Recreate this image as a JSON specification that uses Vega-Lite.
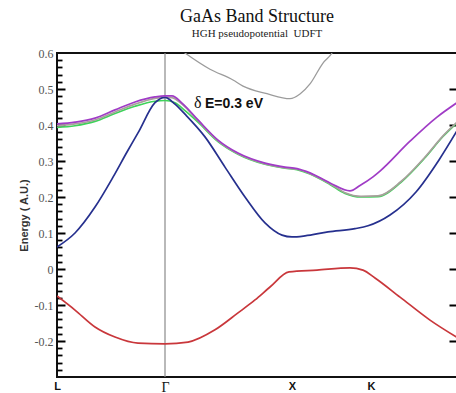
{
  "$schema": "https://vega.github.io/schema/vega-lite/v6.json",
  "width": 400,
  "height": 324,
  "autosize": "none",
  "padding": {"left": 57, "top": 53, "right": 0, "bottom": 16},
  "background": "white",
  "config": {"view": {"stroke": "#111", "strokeWidth": 2}},
  "title": {
    "text": "GaAs Band Structure",
    "subtitle": "HGH pseudopotential\u00a0\u00a0UDFT",
    "font": "Liberation Serif",
    "fontSize": 18,
    "fontWeight": "normal",
    "color": "#111",
    "subtitleFont": "Liberation Serif",
    "subtitleFontSize": 11,
    "subtitleColor": "#222",
    "subtitlePadding": 2,
    "anchor": "middle",
    "offset": 8
  },
  "datasets": {
    "bands": [
      {"b": "green", "x": 0.0, "y": 0.393}, {"b": "green", "x": 0.18, "y": 0.398}, {"b": "green", "x": 0.38, "y": 0.41}, {"b": "green", "x": 0.58, "y": 0.432}, {"b": "green", "x": 0.78, "y": 0.452}, {"b": "green", "x": 0.98, "y": 0.466}, {"b": "green", "x": 1.08, "y": 0.468}, {"b": "green", "x": 1.18, "y": 0.462}, {"b": "green", "x": 1.28, "y": 0.44}, {"b": "green", "x": 1.41, "y": 0.408}, {"b": "green", "x": 1.61, "y": 0.354}, {"b": "green", "x": 1.81, "y": 0.319}, {"b": "green", "x": 2.08, "y": 0.291}, {"b": "green", "x": 2.28, "y": 0.28}, {"b": "green", "x": 2.4, "y": 0.276}, {"b": "green", "x": 2.53, "y": 0.264}, {"b": "green", "x": 2.73, "y": 0.235}, {"b": "green", "x": 2.88, "y": 0.21}, {"b": "green", "x": 3.04, "y": 0.2}, {"b": "green", "x": 3.21, "y": 0.201}, {"b": "green", "x": 3.44, "y": 0.241}, {"b": "green", "x": 3.68, "y": 0.309}, {"b": "green", "x": 3.86, "y": 0.368}, {"b": "green", "x": 4.0, "y": 0.406},
      {"b": "gray", "x": 0.0, "y": 0.398}, {"b": "gray", "x": 0.18, "y": 0.403}, {"b": "gray", "x": 0.38, "y": 0.414}, {"b": "gray", "x": 0.58, "y": 0.436}, {"b": "gray", "x": 0.78, "y": 0.458}, {"b": "gray", "x": 0.98, "y": 0.474}, {"b": "gray", "x": 1.08, "y": 0.477}, {"b": "gray", "x": 1.15, "y": 0.476}, {"b": "gray", "x": 1.25, "y": 0.458}, {"b": "gray", "x": 1.41, "y": 0.412}, {"b": "gray", "x": 1.61, "y": 0.356}, {"b": "gray", "x": 1.81, "y": 0.32}, {"b": "gray", "x": 2.08, "y": 0.292}, {"b": "gray", "x": 2.28, "y": 0.281}, {"b": "gray", "x": 2.4, "y": 0.277}, {"b": "gray", "x": 2.53, "y": 0.265}, {"b": "gray", "x": 2.73, "y": 0.237}, {"b": "gray", "x": 2.88, "y": 0.212}, {"b": "gray", "x": 3.04, "y": 0.202}, {"b": "gray", "x": 3.21, "y": 0.203}, {"b": "gray", "x": 3.44, "y": 0.243}, {"b": "gray", "x": 3.68, "y": 0.311}, {"b": "gray", "x": 3.86, "y": 0.37}, {"b": "gray", "x": 4.0, "y": 0.408},
      {"b": "blue", "x": 0.0, "y": 0.061}, {"b": "blue", "x": 0.18, "y": 0.1}, {"b": "blue", "x": 0.38, "y": 0.172}, {"b": "blue", "x": 0.56, "y": 0.255}, {"b": "blue", "x": 0.7, "y": 0.325}, {"b": "blue", "x": 0.81, "y": 0.378}, {"b": "blue", "x": 0.98, "y": 0.462}, {"b": "blue", "x": 1.08, "y": 0.477}, {"b": "blue", "x": 1.18, "y": 0.458}, {"b": "blue", "x": 1.28, "y": 0.43}, {"b": "blue", "x": 1.48, "y": 0.367}, {"b": "blue", "x": 1.68, "y": 0.283}, {"b": "blue", "x": 1.88, "y": 0.2}, {"b": "blue", "x": 2.08, "y": 0.128}, {"b": "blue", "x": 2.25, "y": 0.094}, {"b": "blue", "x": 2.35, "y": 0.089}, {"b": "blue", "x": 2.48, "y": 0.092}, {"b": "blue", "x": 2.71, "y": 0.103}, {"b": "blue", "x": 2.98, "y": 0.112}, {"b": "blue", "x": 3.11, "y": 0.12}, {"b": "blue", "x": 3.33, "y": 0.15}, {"b": "blue", "x": 3.59, "y": 0.214}, {"b": "blue", "x": 3.82, "y": 0.303}, {"b": "blue", "x": 4.0, "y": 0.384},
      {"b": "purple", "x": 0.0, "y": 0.403}, {"b": "purple", "x": 0.18, "y": 0.408}, {"b": "purple", "x": 0.38, "y": 0.419}, {"b": "purple", "x": 0.58, "y": 0.442}, {"b": "purple", "x": 0.78, "y": 0.464}, {"b": "purple", "x": 0.98, "y": 0.478}, {"b": "purple", "x": 1.08, "y": 0.481}, {"b": "purple", "x": 1.15, "y": 0.481}, {"b": "purple", "x": 1.25, "y": 0.461}, {"b": "purple", "x": 1.41, "y": 0.414}, {"b": "purple", "x": 1.61, "y": 0.358}, {"b": "purple", "x": 1.81, "y": 0.322}, {"b": "purple", "x": 2.08, "y": 0.294}, {"b": "purple", "x": 2.28, "y": 0.283}, {"b": "purple", "x": 2.4, "y": 0.279}, {"b": "purple", "x": 2.53, "y": 0.267}, {"b": "purple", "x": 2.73, "y": 0.239}, {"b": "purple", "x": 2.93, "y": 0.217}, {"b": "purple", "x": 3.03, "y": 0.232}, {"b": "purple", "x": 3.16, "y": 0.256}, {"b": "purple", "x": 3.23, "y": 0.272}, {"b": "purple", "x": 3.53, "y": 0.355}, {"b": "purple", "x": 3.8, "y": 0.422}, {"b": "purple", "x": 4.0, "y": 0.462},
      {"b": "red", "x": 0.0, "y": -0.075}, {"b": "red", "x": 0.18, "y": -0.114}, {"b": "red", "x": 0.38, "y": -0.161}, {"b": "red", "x": 0.58, "y": -0.189}, {"b": "red", "x": 0.81, "y": -0.206}, {"b": "red", "x": 1.08, "y": -0.208}, {"b": "red", "x": 1.31, "y": -0.203}, {"b": "red", "x": 1.58, "y": -0.169}, {"b": "red", "x": 1.81, "y": -0.122}, {"b": "red", "x": 1.98, "y": -0.086}, {"b": "red", "x": 2.13, "y": -0.05}, {"b": "red", "x": 2.32, "y": -0.008}, {"b": "red", "x": 2.6, "y": -0.003}, {"b": "red", "x": 2.93, "y": 0.003}, {"b": "red", "x": 3.06, "y": -0.003}, {"b": "red", "x": 3.18, "y": -0.025}, {"b": "red", "x": 3.43, "y": -0.078}, {"b": "red", "x": 3.73, "y": -0.142}, {"b": "red", "x": 4.0, "y": -0.19}
    ],
    "upper": [
      {"x": 1.25, "y": 0.606}, {"x": 1.28, "y": 0.6}, {"x": 1.53, "y": 0.555}, {"x": 1.76, "y": 0.525}, {"x": 1.86, "y": 0.508}, {"x": 2.1, "y": 0.487}, {"x": 2.33, "y": 0.473}, {"x": 2.43, "y": 0.486}, {"x": 2.53, "y": 0.514}, {"x": 2.66, "y": 0.572}, {"x": 2.75, "y": 0.6}, {"x": 2.77, "y": 0.61}
    ],
    "gamma": [{"x": 1.08}],
    "delta": [{"x": 1.37, "y": 0.447, "t": "δ"}],
    "label": [{"x": 1.48, "y": 0.447, "t": "E=0.3 eV"}]
  },
  "encoding": {
    "x": {
      "field": "x", "type": "quantitative",
      "scale": {"domain": [0, 4.0], "nice": false, "zero": false},
      "axis": {
        "orient": "bottom", "title": null, "values": [0, 1.08, 2.35, 3.14],
        "labelExpr": "datum.value == 0 ? 'L' : datum.value == 1.08 ? 'Γ' : datum.value == 2.35 ? 'X' : 'K'",
        "ticks": false, "domain": false, "grid": false,
        "labelFont": {"condition": {"test": "datum.value == 1.08", "value": "Liberation Serif"}, "value": "Liberation Sans"},
        "labelFontWeight": {"condition": {"test": "datum.value == 1.08", "value": "normal"}, "value": "bold"},
        "labelFontSize": {"condition": {"test": "datum.value == 1.08", "value": 14}, "value": 11},
        "labelColor": "#111", "labelPadding": 3, "labelBaseline": "top", "labelFlush": false, "labelOverlap": false
      }
    }
  },
  "resolve": {"axis": {"y": "independent"}},
  "layer": [
    {
      "data": {"name": "gamma"},
      "mark": {"type": "rule", "color": "#8a8a8a", "strokeWidth": 1.2},
      "encoding": {}
    },
    {
      "data": {"name": "bands"},
      "mark": {"type": "line", "strokeWidth": 1.7, "clip": true, "interpolate": "monotone"},
      "encoding": {
        "y": {
          "field": "y", "type": "quantitative",
          "scale": {"domain": [-0.3, 0.6], "nice": false, "zero": false},
          "axis": {
            "orient": "left", "title": "Energy ( A.U.)",
            "titleFont": "Liberation Sans", "titleFontWeight": "bold", "titleFontSize": 11, "titleColor": "#333", "titlePadding": 5,
            "values": [-0.2, -0.1, 0, 0.1, 0.2, 0.3, 0.4, 0.5, 0.6],
            "labelExpr": "datum.value == 0 ? '0' : (datum.value < 0 ? '-' + format(-datum.value, '.1f') : format(datum.value, '.1f'))",
            "labelFont": "Liberation Serif", "labelFontSize": 12, "labelColor": "#555", "labelPadding": 4,
            "ticks": false, "domain": false, "grid": false
          }
        },
        "color": {
          "field": "b", "type": "nominal", "legend": null,
          "scale": {"domain": ["green", "gray", "blue", "purple", "red"], "range": ["#3ed35a", "#a8a09c", "#26308e", "#a03cc6", "#c9373b"]}
        }
      }
    },
    {
      "data": {"name": "upper"},
      "mark": {"type": "line", "strokeWidth": 1.3, "color": "#9c9c9c", "clip": true, "interpolate": "monotone"},
      "encoding": {
        "y": {
          "field": "y", "type": "quantitative",
          "axis": {"orient": "right", "title": null, "values": [-0.2, -0.1, 0, 0.1, 0.2, 0.3, 0.4, 0.5], "labels": false, "domain": false, "grid": false, "tickSize": 8, "offset": -8, "tickColor": "#000", "tickWidth": 2}
        }
      }
    },
    {
      "data": {"name": "delta"},
      "mark": {"type": "text", "font": "Liberation Serif", "fontSize": 16, "align": "left", "baseline": "alphabetic", "color": "#111"},
      "encoding": {
        "y": {
          "field": "y", "type": "quantitative",
          "axis": {"orient": "left", "title": null, "values": [-0.2, -0.1, 0, 0.1, 0.2, 0.3, 0.4, 0.5], "labels": false, "domain": false, "grid": false, "tickSize": 8, "offset": -8, "tickColor": "#000", "tickWidth": 2}
        },
        "text": {"field": "t"}
      }
    },
    {
      "data": {"name": "label"},
      "mark": {"type": "text", "font": "Liberation Sans", "fontSize": 14, "fontWeight": "bold", "align": "left", "baseline": "alphabetic", "color": "#111"},
      "encoding": {
        "y": {
          "field": "y", "type": "quantitative",
          "axis": {"orient": "left", "title": null, "values": [-0.28, -0.26, -0.24, -0.22, -0.18, -0.16, -0.14, -0.12, -0.08, -0.06, -0.04, -0.02, 0.02, 0.04, 0.06, 0.08, 0.12, 0.14, 0.16, 0.18, 0.22, 0.24, 0.26, 0.28, 0.32, 0.34, 0.36, 0.38, 0.42, 0.44, 0.46, 0.48, 0.52, 0.54, 0.56, 0.58], "labels": false, "domain": false, "grid": false, "tickSize": 5, "offset": -5, "tickColor": "#000", "tickWidth": 1.8}
        },
        "text": {"field": "t"}
      }
    }
  ]
}
